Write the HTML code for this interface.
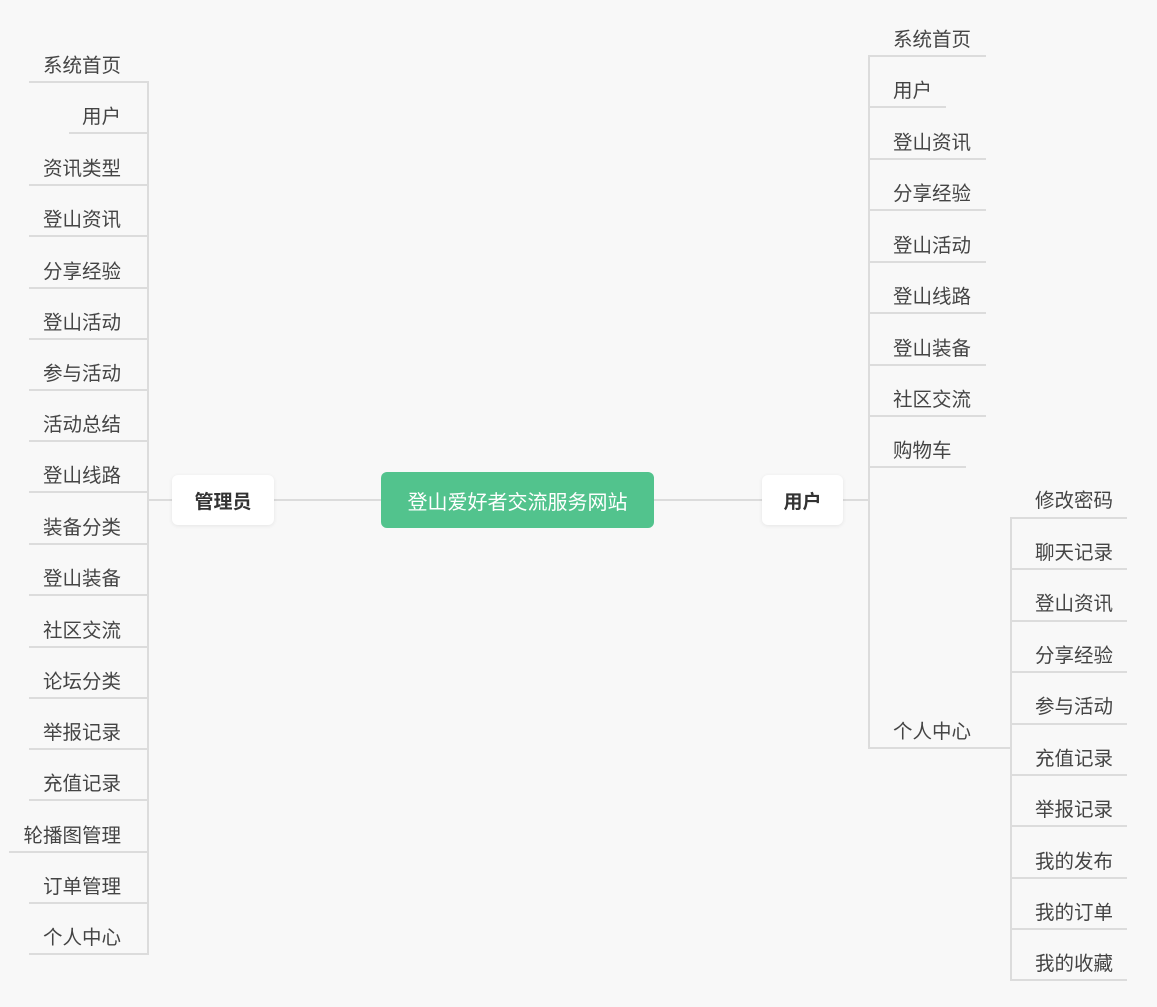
<!DOCTYPE html>
<html><head><meta charset="utf-8">
<style>
body{margin:0;width:1157px;height:1007px;background:#f8f8f8;position:relative;overflow:hidden;font-family:"Liberation Sans","Noto Sans CJK SC",sans-serif;}
.t{position:absolute;font-size:19.5px;line-height:22px;color:#444;white-space:nowrap;}
.l{text-align:right;right:1036px;}
.h{position:absolute;height:2px;background:#dcdcdc;}
.v{position:absolute;width:2px;background:#dcdcdc;}
.box{position:absolute;background:#fff;border-radius:6px;box-shadow:0 1px 4px rgba(0,0,0,0.08);font-size:19px;font-weight:bold;color:#333;display:flex;align-items:center;justify-content:center;}
.c{position:absolute;left:381px;top:472px;width:273px;height:56px;background:#52c38d;border-radius:6px;color:#fff;font-size:20px;display:flex;align-items:center;justify-content:center;}
</style></head><body>
<!-- main lines -->
<div class="h" style="left:148px;top:499px;width:24px"></div>
<div class="h" style="left:274px;top:499px;width:107px"></div>
<div class="h" style="left:654px;top:499px;width:108px"></div>
<div class="h" style="left:843px;top:499px;width:26px"></div>
<div class="box" style="left:172px;top:475px;width:102px;height:50px">管理员</div>
<div class="c">登山爱好者交流服务网站</div>
<div class="box" style="left:762px;top:475px;width:81px;height:50px">用户</div>

<!-- left -->
<div class="v" style="left:147px;top:82px;height:873px"></div>
<div class="t l" style="top:55px">系统首页</div><div class="h" style="left:29px;top:81px;width:120px"></div>
<div class="t l" style="top:106px">用户</div><div class="h" style="left:69px;top:132px;width:80px"></div>
<div class="t l" style="top:158px">资讯类型</div><div class="h" style="left:29px;top:184px;width:120px"></div>
<div class="t l" style="top:209px">登山资讯</div><div class="h" style="left:29px;top:235px;width:120px"></div>
<div class="t l" style="top:261px">分享经验</div><div class="h" style="left:29px;top:287px;width:120px"></div>
<div class="t l" style="top:312px">登山活动</div><div class="h" style="left:29px;top:338px;width:120px"></div>
<div class="t l" style="top:363px">参与活动</div><div class="h" style="left:29px;top:389px;width:120px"></div>
<div class="t l" style="top:414px">活动总结</div><div class="h" style="left:29px;top:440px;width:120px"></div>
<div class="t l" style="top:465px">登山线路</div><div class="h" style="left:29px;top:491px;width:120px"></div>
<div class="t l" style="top:517px">装备分类</div><div class="h" style="left:29px;top:543px;width:120px"></div>
<div class="t l" style="top:568px">登山装备</div><div class="h" style="left:29px;top:594px;width:120px"></div>
<div class="t l" style="top:620px">社区交流</div><div class="h" style="left:29px;top:646px;width:120px"></div>
<div class="t l" style="top:671px">论坛分类</div><div class="h" style="left:29px;top:697px;width:120px"></div>
<div class="t l" style="top:722px">举报记录</div><div class="h" style="left:29px;top:748px;width:120px"></div>
<div class="t l" style="top:773px">充值记录</div><div class="h" style="left:29px;top:799px;width:120px"></div>
<div class="t l" style="top:825px">轮播图管理</div><div class="h" style="left:9px;top:851px;width:140px"></div>
<div class="t l" style="top:876px">订单管理</div><div class="h" style="left:29px;top:902px;width:120px"></div>
<div class="t l" style="top:927px">个人中心</div><div class="h" style="left:29px;top:953px;width:120px"></div>

<!-- right -->
<div class="v" style="left:868px;top:56px;height:693px"></div>
<div class="t" style="left:893px;top:29px">系统首页</div><div class="h" style="left:868px;top:55px;width:118px"></div>
<div class="t" style="left:893px;top:80px">用户</div><div class="h" style="left:868px;top:106px;width:78px"></div>
<div class="t" style="left:893px;top:132px">登山资讯</div><div class="h" style="left:868px;top:158px;width:118px"></div>
<div class="t" style="left:893px;top:183px">分享经验</div><div class="h" style="left:868px;top:209px;width:118px"></div>
<div class="t" style="left:893px;top:235px">登山活动</div><div class="h" style="left:868px;top:261px;width:118px"></div>
<div class="t" style="left:893px;top:286px">登山线路</div><div class="h" style="left:868px;top:312px;width:118px"></div>
<div class="t" style="left:893px;top:338px">登山装备</div><div class="h" style="left:868px;top:364px;width:118px"></div>
<div class="t" style="left:893px;top:389px">社区交流</div><div class="h" style="left:868px;top:415px;width:118px"></div>
<div class="t" style="left:893px;top:440px">购物车</div><div class="h" style="left:868px;top:466px;width:98px"></div>
<div class="t" style="left:893px;top:721px">个人中心</div><div class="h" style="left:868px;top:747px;width:143px"></div>

<!-- sub -->
<div class="v" style="left:1010px;top:518px;height:463px"></div>
<div class="t" style="left:1035px;top:490px">修改密码</div><div class="h" style="left:1010px;top:517px;width:117px"></div>
<div class="t" style="left:1035px;top:542px">聊天记录</div><div class="h" style="left:1010px;top:568px;width:117px"></div>
<div class="t" style="left:1035px;top:593px">登山资讯</div><div class="h" style="left:1010px;top:620px;width:117px"></div>
<div class="t" style="left:1035px;top:645px">分享经验</div><div class="h" style="left:1010px;top:671px;width:117px"></div>
<div class="t" style="left:1035px;top:696px">参与活动</div><div class="h" style="left:1010px;top:723px;width:117px"></div>
<div class="t" style="left:1035px;top:748px">充值记录</div><div class="h" style="left:1010px;top:774px;width:117px"></div>
<div class="t" style="left:1035px;top:799px">举报记录</div><div class="h" style="left:1010px;top:825px;width:117px"></div>
<div class="t" style="left:1035px;top:851px">我的发布</div><div class="h" style="left:1010px;top:877px;width:117px"></div>
<div class="t" style="left:1035px;top:902px">我的订单</div><div class="h" style="left:1010px;top:928px;width:117px"></div>
<div class="t" style="left:1035px;top:953px">我的收藏</div><div class="h" style="left:1010px;top:979px;width:117px"></div>
</body></html>
